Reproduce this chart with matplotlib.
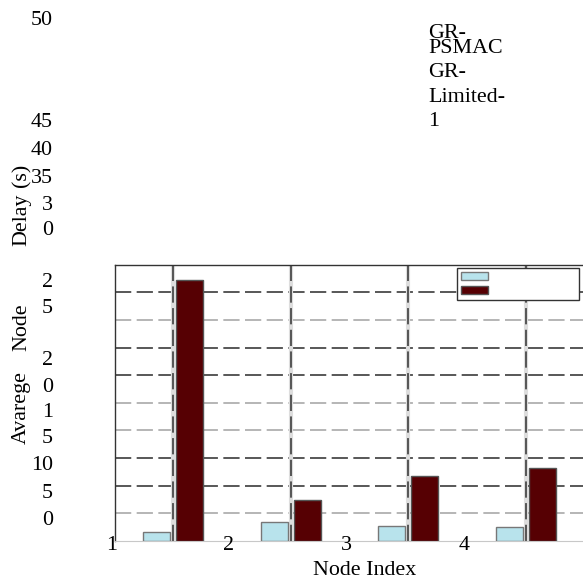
import matplotlib
matplotlib.use('Agg')
import matplotlib.pyplot as plt
from matplotlib.patches import Patch

plt.rcParams['font.family'] = ['Liberation Serif', 'DejaVu Serif']

# data
nodes = [1, 2, 3, 4]
psmac = [1.5, 3.3, 2.7, 2.5]
limited = [47.2, 7.4, 11.7, 13.1]
series_names = ['GR-PSMAC', 'GR-Limited-1']

# broken tick / label text as it shows in the reference (text, baseline y in px)
ytick_pieces = [('50', 25), ('45', 127), ('40', 155), ('35', 183), ('3', 210),
                ('0', 235), ('2', 287), ('5', 313), ('2', 365), ('0', 392),
                ('1', 417), ('5', 443), ('10', 470), ('5', 498), ('0', 525)]
legend_pieces = [('GR-', 38), ('PSMAC', 53), ('GR-', 77), ('Limited-', 102), ('1', 126)]
ylabel_pieces = [('(s)', 175), ('Delay', 220), ('Node', 327), ('Avarege', 408)]

W, H = 583, 579
fs = 15.8
blue = '#b8e3ec'
red = '#560003'


def px(x, y):
    return x / W, 1 - y / H


fig = plt.figure(figsize=(W / 100, H / 100), dpi=100)
ax = fig.add_axes([115 / W, 1 - 540.7 / H, 469.8 / W, 276 / H])
ax.set_xlim(0.507, 4.5)
ax.set_ylim(0, 50)

# grid: two grey tones, as in the scan
ax.set_yticks([10, 15, 30, 35, 45])
ax.set_yticks([5, 20, 25, 40], minor=True)
ax.set_xticks(nodes)
ax.tick_params(which='both', length=0, labelleft=False, labelbottom=False)
ax.grid(True, axis='y', which='major', color='#4a4a4a', linestyle=(0, (9, 3)), linewidth=1.3, zorder=1)
ax.grid(True, axis='y', which='minor', color='#b0b0b0', linestyle=(0, (9, 3)), linewidth=1.3, zorder=1)
for n in nodes:
    ax.axvline(n, color='#dddddd', linewidth=3, zorder=0.9)
    ax.axvline(n, color='#4a4a4a', linestyle=(0, (9, 3)), linewidth=1.3, zorder=1)
ax.set_axisbelow(True)

bw = 0.23
ax.bar([n - 0.14 for n in nodes], psmac, width=bw, color=blue, edgecolor='#777777', linewidth=1, zorder=3)
ax.bar([n + 0.14 for n in nodes], limited, width=bw, color=red, edgecolor='#555555', linewidth=1, zorder=3)

for side in ['left', 'top']:
    ax.spines[side].set_color('#333333')
    ax.spines[side].set_linewidth(1)
ax.spines['bottom'].set_color('#c8c8c8')
ax.spines['right'].set_visible(False)

# legend keeps only its swatches; the names ended up above the plot
handles = [Patch(facecolor=blue, edgecolor='#777777'), Patch(facecolor=red, edgecolor='#555555')]
leg = ax.legend(handles, ['', ''], loc='upper left', bbox_to_anchor=(0.728, 0.0, 0.26, 0.988),
                mode='expand', borderaxespad=0, fontsize=8, handlelength=2.4, handleheight=0.8,
                labelspacing=0.35, borderpad=0.35, fancybox=False, framealpha=1)
leg.get_frame().set_edgecolor('#333333')
leg.get_frame().set_linewidth(1)

# x tick labels sit left of their grid lines in the reference
for n in nodes:
    ax.text(n - 0.525, -0.034, str(n), transform=ax.get_xaxis_transform(),
            ha='center', va='baseline', fontsize=fs)
fig.text(*px(365, 575), 'Node Index', ha='center', va='baseline', fontsize=fs)

for s, yb in ytick_pieces:
    fig.text(*px(53, yb), s, ha='right', va='baseline', fontsize=fs)

for s, yb in legend_pieces:
    fig.text(*px(428, yb), s, ha='left', va='baseline', fontsize=fs)

for s, yc in ylabel_pieces:
    fig.text(*px(26, yc), s, rotation=90, rotation_mode='anchor', ha='center', va='baseline',
             fontsize=fs)

fig.savefig('out.png', dpi=100)
